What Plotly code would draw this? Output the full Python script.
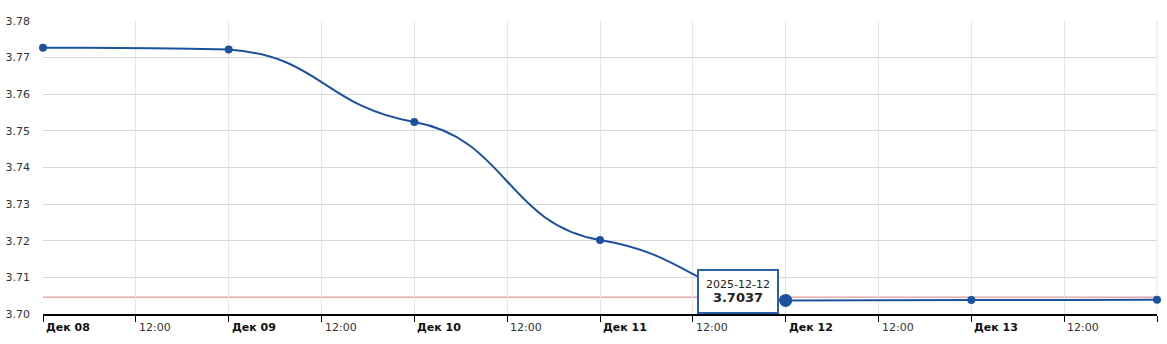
import plotly.graph_objects as go
from datetime import datetime, timedelta

# ---- data ----
dates = ["2025-12-08", "2025-12-09", "2025-12-10", "2025-12-11", "2025-12-12", "2025-12-13", "2025-12-14"]
rates = [3.7727, 3.7722, 3.7524, 3.7202, 3.7037, 3.7038, 3.7039]
ref_level = 3.7046
highlight_index = 4
y_ticks = [3.70, 3.71, 3.72, 3.73, 3.74, 3.75, 3.76, 3.77, 3.78]
month_abbr = "Дек"

LINE = "#1c529c"
FONT = "DejaVu Sans"
TENSION = 0.35   # tangent scale of the smoothed line
ARM = 0.5        # horizontal control-arm fraction

start = datetime.strptime(dates[0], "%Y-%m-%d")
parsed = [datetime.strptime(d, "%Y-%m-%d") for d in dates]
xh = [(d - start).total_seconds() / 3600 for d in parsed]  # hours since start
x_end = xh[-1]
tick_h = list(range(0, int(x_end) + 1, 12))

# tangents for the smooth line
n = len(xh)
m = []
for i in range(n):
    a = max(i - 1, 0)
    b = min(i + 1, n - 1)
    m.append(TENSION * (rates[b] - rates[a]) / (xh[b] - xh[a]))


def clamp(v, lo, hi):
    return max(lo, min(hi, v))


path = f"M{xh[0]},{rates[0]}"
for i in range(n - 1):
    dx = xh[i + 1] - xh[i]
    lo, hi = min(rates[i], rates[i + 1]), max(rates[i], rates[i + 1])
    c1x, c1y = xh[i] + ARM * dx, clamp(rates[i] + m[i] * ARM * dx, lo, hi)
    c2x, c2y = xh[i + 1] - ARM * dx, clamp(rates[i + 1] - m[i + 1] * ARM * dx, lo, hi)
    path += f" C{c1x},{c1y} {c2x},{c2y} {xh[i + 1]},{rates[i + 1]}"

fig = go.Figure()
fig.add_trace(go.Scatter(
    x=xh, y=rates, mode="markers",
    marker=dict(color=LINE, size=8),
    hoverinfo="skip", cliponaxis=False,
))
fig.add_trace(go.Scatter(
    x=[xh[highlight_index]], y=[rates[highlight_index]], mode="markers",
    marker=dict(color=LINE, size=13),
    hoverinfo="skip", cliponaxis=False,
))

fig.add_shape(type="line", xref="paper", x0=0, x1=1, yref="y", y0=ref_level, y1=ref_level,
              line=dict(color="#cf8080", width=1), layer="below")
fig.add_shape(type="path", xref="x", yref="y", path=path,
              line=dict(color=LINE, width=2), fillcolor="rgba(0,0,0,0)")
fig.add_shape(type="line", xref="paper", yref="paper", x0=1, x1=1, y0=0, y1=1,
              line=dict(color="#e6e6e6", width=1), layer="below")

annotations = []
for h in tick_h[:-1]:
    d = start + timedelta(hours=h)
    if d.hour == 0:
        txt = f"<b>{month_abbr} {d.day:02d}</b>"
        col = "#111111"
    else:
        txt = d.strftime("%H:%M")
        col = "#333333"
    annotations.append(dict(
        x=h, y=0, xref="x", yref="paper", text=txt, showarrow=False,
        xanchor="left", yanchor="top", xshift=1, yshift=-5,
        font=dict(family=FONT, size=11, color=col),
    ))

annotations.append(dict(
    x=xh[highlight_index], y=rates[highlight_index], xref="x", yref="y",
    text=f"{dates[highlight_index]}<br><b style='font-size:13px'>{rates[highlight_index]:.4f}</b>",
    showarrow=False, xanchor="right", yanchor="middle", xshift=-7, yshift=9,
    bgcolor="white", bordercolor="#2a5ea8", borderwidth=2, borderpad=7,
    font=dict(family=FONT, size=11, color="#222222"), align="center",
))

fig.update_layout(
    width=1167, height=344,
    margin=dict(l=43, r=10, t=21, b=30, autoexpand=False),
    paper_bgcolor="white", plot_bgcolor="white",
    showlegend=False,
    annotations=annotations,
    font=dict(family=FONT, size=11, color="#333333"),
)
fig.update_xaxes(
    type="linear", range=[xh[0], x_end],
    tickvals=tick_h, showticklabels=False,
    ticks="outside", ticklen=6, tickcolor="#000000", tickwidth=1,
    showgrid=True, gridcolor="#e6e6e6", gridwidth=1,
    showline=True, linecolor="#000000", linewidth=1.5,
    zeroline=False, fixedrange=True, automargin=False,
)
fig.update_yaxes(
    range=[y_ticks[0], y_ticks[-1]], tickvals=y_ticks,
    ticktext=[f"{v:.2f}" for v in y_ticks],
    showgrid=True, gridcolor="#d9d9d9", gridwidth=1,
    ticks="", ticklabelstandoff=12,
    tickfont=dict(family=FONT, size=11, color="#333333"),
    showline=False, zeroline=False, fixedrange=True, automargin=False,
)

fig.write_html("out.html")
